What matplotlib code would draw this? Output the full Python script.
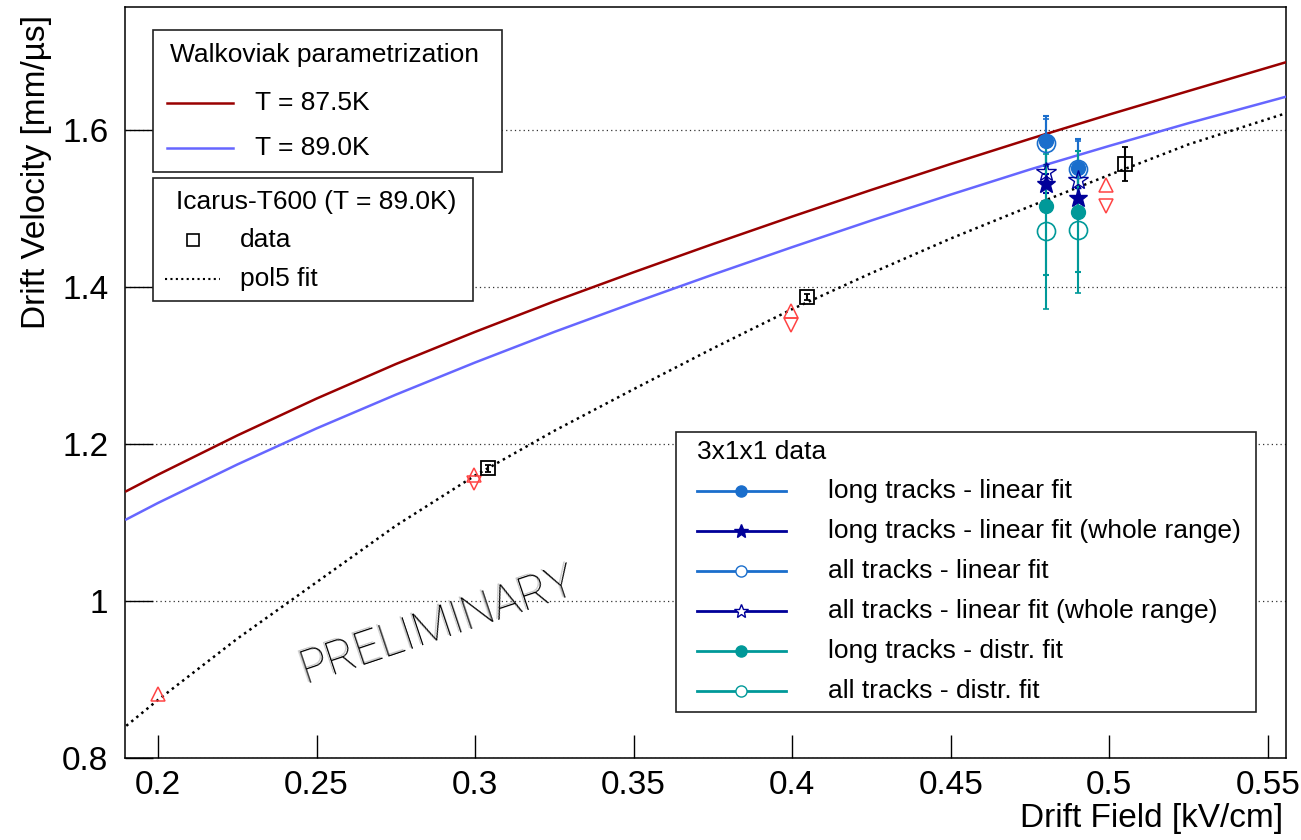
import matplotlib
matplotlib.use('Agg')
import matplotlib.pyplot as plt
from matplotlib import transforms
from matplotlib.lines import Line2D
from matplotlib.patches import Rectangle

plt.rcParams['font.family'] = ['Liberation Sans', 'DejaVu Sans']

# Walkoviak parametrization
field_walk = [0.19, 0.20, 0.225, 0.25, 0.275, 0.30, 0.325, 0.35, 0.375, 0.40,
              0.425, 0.45, 0.475, 0.50, 0.525, 0.556]
v_875 = [1.140, 1.161, 1.211, 1.258, 1.302, 1.343, 1.382, 1.419, 1.455, 1.490,
         1.524, 1.557, 1.589, 1.620, 1.650, 1.687]
v_890 = [1.104, 1.125, 1.174, 1.220, 1.263, 1.304, 1.343, 1.380, 1.416, 1.451,
         1.485, 1.518, 1.550, 1.580, 1.609, 1.643]

# Icarus pol5 fit
v_pol5 = [0.841, 0.874, 0.952, 1.024, 1.096, 1.160, 1.217, 1.270, 1.322, 1.372,
          1.418, 1.462, 1.503, 1.543, 1.582, 1.622]

# Icarus data
icarus_x = [0.304, 0.4045, 0.505]
icarus_v = [1.169, 1.387, 1.557]
icarus_err = [0.004, 0.004, 0.022]

tri_up_x = [0.200, 0.2996, 0.3995, 0.499]
tri_up_v = [0.8815, 1.160, 1.369, 1.530]
tri_dn_x = [0.2996, 0.3995, 0.499]
tri_dn_v = [1.151, 1.352, 1.504]

# 3x1x1 data
field_311 = [0.48, 0.49]
long_lin = [1.586, 1.552]
long_lin_err = [0.032, 0.037]
long_whole = [1.532, 1.514]
long_whole_err = [0.012, 0.012]
all_lin = [1.584, 1.551]
all_lin_err = [0.030, 0.035]
all_whole = [1.547, 1.536]
all_whole_err = [0.010, 0.010]
long_distr = [1.503, 1.496]
long_distr_err = [0.088, 0.077]
all_distr = [1.471, 1.473]
all_distr_err = [0.099, 0.080]

RED = '#990000'
LBLUE = '#6666ff'
AZURE = '#1a6ecc'
NAVY = '#000099'
TEAL = '#009999'
TRI = '#ff4444'

fig = plt.figure(figsize=(13.01, 8.4), dpi=100)
ax = fig.add_axes([125 / 1301, 1 - 758 / 840, 1161 / 1301, 751 / 840])

ax.plot(field_walk, v_875, color=RED, lw=1.8, zorder=3)
ax.plot(field_walk, v_890, color=LBLUE, lw=1.8, zorder=3)
ax.plot(field_walk, v_pol5, color='black', lw=1.8, ls=(0, (1, 1.6)), zorder=3)

ax.plot(tri_up_x, tri_up_v, ls='none', marker='^', ms=10, mfc='none', mec=TRI, mew=1.1, zorder=4)
ax.plot(tri_dn_x, tri_dn_v, ls='none', marker='v', ms=10, mfc='none', mec=TRI, mew=1.1, zorder=4)
ax.errorbar(icarus_x, icarus_v, yerr=icarus_err, fmt='s', ms=10, mfc='none', mec='black',
            mew=1.3, ecolor='black', elinewidth=1.5, capsize=2.5, zorder=4)

eb = dict(capsize=2.5, elinewidth=1.5, capthick=1.5, zorder=5)
ax.errorbar(field_311, long_lin, yerr=long_lin_err, fmt='o', color=AZURE, ms=10, **eb)
ax.errorbar(field_311, long_whole, yerr=long_whole_err, fmt='*', color=NAVY, ms=14, **eb)
ax.errorbar(field_311, all_lin, yerr=all_lin_err, fmt='o', color=AZURE, ms=13, mfc='none', mew=1.2, **eb)
ax.errorbar(field_311, all_whole, yerr=all_whole_err, fmt='*', color=NAVY, ms=15, mfc='none', mew=1.0, **eb)
ax.errorbar(field_311, long_distr, yerr=long_distr_err, fmt='o', color=TEAL, ms=10, **eb)
ax.errorbar(field_311, all_distr, yerr=all_distr_err, fmt='o', color=TEAL, ms=13, mfc='none', mew=1.2, **eb)

ax.set_xlim(0.1896, 0.5557)
ax.set_ylim(0.8, 1.757)
ax.set_xticks([0.2, 0.25, 0.3, 0.35, 0.4, 0.45, 0.5, 0.55])
ax.set_xticklabels(['0.2', '0.25', '0.3', '0.35', '0.4', '0.45', '0.5', '0.55'])
ax.set_yticks([0.8, 1.0, 1.2, 1.4, 1.6])
ax.set_yticklabels(['0.8', '1', '1.2', '1.4', '1.6'])
ax.tick_params(direction='in', top=False, right=False, labelsize=24, width=1.0, color='black')
ax.tick_params(axis='x', length=16.5, pad=8.5)
ax.tick_params(axis='y', length=20, pad=12)
ax.yaxis.grid(True, ls=(0, (1, 2.5)), color='#333333', lw=0.9)
ax.set_axisbelow(True)
for s in ax.spines.values():
    s.set_linewidth(1.1)

ax.set_ylabel('Drift Velocity [mm/\u00b5s]', fontsize=24, loc='top')
ax.yaxis.set_label_coords(-0.063, 0.99)
ax.set_xlabel('Drift Field [kV/cm]', fontsize=24, loc='right')
ax.xaxis.set_label_coords(0.9974, -0.060)

# PRELIMINARY stamp with a grey shadow
shadow = transforms.offset_copy(ax.transData, fig=fig, x=-2.5, y=1.5, units='dots')
for tr, col in [(shadow, '#c8c8c8'), (ax.transData, 'black')]:
    ax.text(0.2897, 0.9535, 'PRELIMINARY', transform=tr, color=col, fontsize=33,
            family=['Roboto', 'DejaVu Sans'], fontweight='light', rotation=18.5,
            rotation_mode='anchor', ha='center', va='baseline', zorder=2)

# legends, drawn in picture pixels
px = transforms.Affine2D().scale(1 / 100, -1 / 100).translate(0, 8.4) + fig.dpi_scale_trans


def box(x0, y0, x1, y1):
    fig.add_artist(Rectangle((x0, y0), x1 - x0, y1 - y0, transform=px, fc='white',
                             ec='#222222', lw=1.2, zorder=5))


def sample(xs, y, **kw):
    fig.add_artist(Line2D(xs, [y] * len(xs), transform=px, zorder=6, **kw))


def label(x, y, s):
    fig.text(x, y, s, transform=px, fontsize=19, va='center', zorder=6)


box(153, 30, 502, 172)
label(170, 55, 'Walkoviak parametrization')
sample([167, 233], 103, color=RED, lw=1.8)
label(255, 103, 'T = 87.5K')
sample([167, 233], 148, color=LBLUE, lw=1.8)
label(255, 148, 'T = 89.0K')

box(153, 178, 473, 301)
label(176, 202, 'Icarus-T600 (T = 89.0K)')
sample([193], 240, ls='none', marker='s', ms=8, mfc='none', mec='black', mew=1.2)
label(240, 240, 'data')
sample([165, 220], 279, color='black', lw=1.5, ls=(0, (1, 1.6)))
label(240, 279, 'pol5 fit')

box(676, 432, 1256, 712)
label(697, 452, '3x1x1 data')
entries = [
    (AZURE, 'o', AZURE, 'long tracks - linear fit'),
    (NAVY, '*', NAVY, 'long tracks - linear fit (whole range)'),
    (AZURE, 'o', 'white', 'all tracks - linear fit'),
    (NAVY, '*', 'white', 'all tracks - linear fit (whole range)'),
    (TEAL, 'o', TEAL, 'long tracks - distr. fit'),
    (TEAL, 'o', 'white', 'all tracks - distr. fit'),
]
for i, (col, mk, fc, txt) in enumerate(entries):
    y = 491 + 40 * i
    sample([697, 741, 786], y, color=col, lw=2, marker=mk, markevery=[1],
           ms=10 if mk == '*' else 8, mfc=fc, mec=col, mew=1.0)
    label(828, y, txt)

fig.savefig('out.png', dpi=100)
